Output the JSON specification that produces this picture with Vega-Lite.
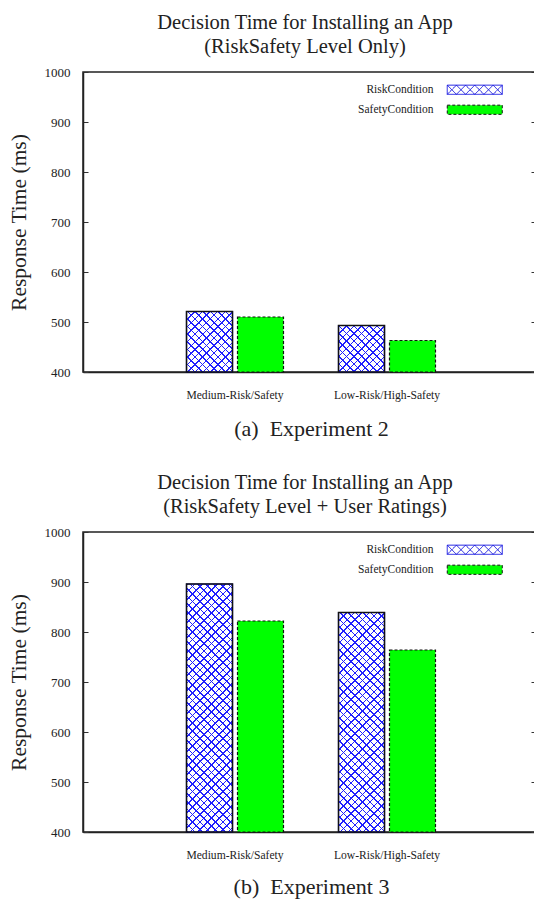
{
  "$schema": "https://vega.github.io/schema/vega-lite/v6.json",
  "padding": {"left": 7, "top": 12, "right": 0, "bottom": 0},
  "background": "white",
  "params": [
    {"name": "hatch", "value": [
      {"offset":0,"color":"#2020ff"},{"offset":0.004,"color":"#2020ff"},{"offset":0.004,"color":"#2020ff00"},{"offset":0.02,"color":"#2020ff00"},
      {"offset":0.02,"color":"#2020ff"},{"offset":0.024,"color":"#2020ff"},{"offset":0.024,"color":"#2020ff00"},{"offset":0.04,"color":"#2020ff00"},
      {"offset":0.04,"color":"#2020ff"},{"offset":0.044,"color":"#2020ff"},{"offset":0.044,"color":"#2020ff00"},{"offset":0.06,"color":"#2020ff00"},
      {"offset":0.06,"color":"#2020ff"},{"offset":0.064,"color":"#2020ff"},{"offset":0.064,"color":"#2020ff00"},{"offset":0.08,"color":"#2020ff00"},
      {"offset":0.08,"color":"#2020ff"},{"offset":0.084,"color":"#2020ff"},{"offset":0.084,"color":"#2020ff00"},{"offset":0.1,"color":"#2020ff00"},
      {"offset":0.1,"color":"#2020ff"},{"offset":0.104,"color":"#2020ff"},{"offset":0.104,"color":"#2020ff00"},{"offset":0.12,"color":"#2020ff00"},
      {"offset":0.12,"color":"#2020ff"},{"offset":0.124,"color":"#2020ff"},{"offset":0.124,"color":"#2020ff00"},{"offset":0.14,"color":"#2020ff00"},
      {"offset":0.14,"color":"#2020ff"},{"offset":0.144,"color":"#2020ff"},{"offset":0.144,"color":"#2020ff00"},{"offset":0.16,"color":"#2020ff00"},
      {"offset":0.16,"color":"#2020ff"},{"offset":0.164,"color":"#2020ff"},{"offset":0.164,"color":"#2020ff00"},{"offset":0.18,"color":"#2020ff00"},
      {"offset":0.18,"color":"#2020ff"},{"offset":0.184,"color":"#2020ff"},{"offset":0.184,"color":"#2020ff00"},{"offset":0.2,"color":"#2020ff00"},
      {"offset":0.2,"color":"#2020ff"},{"offset":0.204,"color":"#2020ff"},{"offset":0.204,"color":"#2020ff00"},{"offset":0.22,"color":"#2020ff00"},
      {"offset":0.22,"color":"#2020ff"},{"offset":0.224,"color":"#2020ff"},{"offset":0.224,"color":"#2020ff00"},{"offset":0.24,"color":"#2020ff00"},
      {"offset":0.24,"color":"#2020ff"},{"offset":0.244,"color":"#2020ff"},{"offset":0.244,"color":"#2020ff00"},{"offset":0.26,"color":"#2020ff00"},
      {"offset":0.26,"color":"#2020ff"},{"offset":0.264,"color":"#2020ff"},{"offset":0.264,"color":"#2020ff00"},{"offset":0.28,"color":"#2020ff00"},
      {"offset":0.28,"color":"#2020ff"},{"offset":0.284,"color":"#2020ff"},{"offset":0.284,"color":"#2020ff00"},{"offset":0.3,"color":"#2020ff00"},
      {"offset":0.3,"color":"#2020ff"},{"offset":0.304,"color":"#2020ff"},{"offset":0.304,"color":"#2020ff00"},{"offset":0.32,"color":"#2020ff00"},
      {"offset":0.32,"color":"#2020ff"},{"offset":0.324,"color":"#2020ff"},{"offset":0.324,"color":"#2020ff00"},{"offset":0.34,"color":"#2020ff00"},
      {"offset":0.34,"color":"#2020ff"},{"offset":0.344,"color":"#2020ff"},{"offset":0.344,"color":"#2020ff00"},{"offset":0.36,"color":"#2020ff00"},
      {"offset":0.36,"color":"#2020ff"},{"offset":0.364,"color":"#2020ff"},{"offset":0.364,"color":"#2020ff00"},{"offset":0.38,"color":"#2020ff00"},
      {"offset":0.38,"color":"#2020ff"},{"offset":0.384,"color":"#2020ff"},{"offset":0.384,"color":"#2020ff00"},{"offset":0.4,"color":"#2020ff00"},
      {"offset":0.4,"color":"#2020ff"},{"offset":0.404,"color":"#2020ff"},{"offset":0.404,"color":"#2020ff00"},{"offset":0.42,"color":"#2020ff00"},
      {"offset":0.42,"color":"#2020ff"},{"offset":0.424,"color":"#2020ff"},{"offset":0.424,"color":"#2020ff00"},{"offset":0.44,"color":"#2020ff00"},
      {"offset":0.44,"color":"#2020ff"},{"offset":0.444,"color":"#2020ff"},{"offset":0.444,"color":"#2020ff00"},{"offset":0.46,"color":"#2020ff00"},
      {"offset":0.46,"color":"#2020ff"},{"offset":0.464,"color":"#2020ff"},{"offset":0.464,"color":"#2020ff00"},{"offset":0.48,"color":"#2020ff00"},
      {"offset":0.48,"color":"#2020ff"},{"offset":0.484,"color":"#2020ff"},{"offset":0.484,"color":"#2020ff00"},{"offset":0.5,"color":"#2020ff00"},
      {"offset":0.5,"color":"#2020ff"},{"offset":0.504,"color":"#2020ff"},{"offset":0.504,"color":"#2020ff00"},{"offset":0.52,"color":"#2020ff00"},
      {"offset":0.52,"color":"#2020ff"},{"offset":0.524,"color":"#2020ff"},{"offset":0.524,"color":"#2020ff00"},{"offset":0.54,"color":"#2020ff00"},
      {"offset":0.54,"color":"#2020ff"},{"offset":0.544,"color":"#2020ff"},{"offset":0.544,"color":"#2020ff00"},{"offset":0.56,"color":"#2020ff00"},
      {"offset":0.56,"color":"#2020ff"},{"offset":0.564,"color":"#2020ff"},{"offset":0.564,"color":"#2020ff00"},{"offset":0.58,"color":"#2020ff00"},
      {"offset":0.58,"color":"#2020ff"},{"offset":0.584,"color":"#2020ff"},{"offset":0.584,"color":"#2020ff00"},{"offset":0.6,"color":"#2020ff00"},
      {"offset":0.6,"color":"#2020ff"},{"offset":0.604,"color":"#2020ff"},{"offset":0.604,"color":"#2020ff00"},{"offset":0.62,"color":"#2020ff00"},
      {"offset":0.62,"color":"#2020ff"},{"offset":0.624,"color":"#2020ff"},{"offset":0.624,"color":"#2020ff00"},{"offset":0.64,"color":"#2020ff00"},
      {"offset":0.64,"color":"#2020ff"},{"offset":0.644,"color":"#2020ff"},{"offset":0.644,"color":"#2020ff00"},{"offset":0.66,"color":"#2020ff00"},
      {"offset":0.66,"color":"#2020ff"},{"offset":0.664,"color":"#2020ff"},{"offset":0.664,"color":"#2020ff00"},{"offset":0.68,"color":"#2020ff00"},
      {"offset":0.68,"color":"#2020ff"},{"offset":0.684,"color":"#2020ff"},{"offset":0.684,"color":"#2020ff00"},{"offset":0.7,"color":"#2020ff00"},
      {"offset":0.7,"color":"#2020ff"},{"offset":0.704,"color":"#2020ff"},{"offset":0.704,"color":"#2020ff00"},{"offset":0.72,"color":"#2020ff00"},
      {"offset":0.72,"color":"#2020ff"},{"offset":0.724,"color":"#2020ff"},{"offset":0.724,"color":"#2020ff00"},{"offset":0.74,"color":"#2020ff00"},
      {"offset":0.74,"color":"#2020ff"},{"offset":0.744,"color":"#2020ff"},{"offset":0.744,"color":"#2020ff00"},{"offset":0.76,"color":"#2020ff00"},
      {"offset":0.76,"color":"#2020ff"},{"offset":0.764,"color":"#2020ff"},{"offset":0.764,"color":"#2020ff00"},{"offset":0.78,"color":"#2020ff00"},
      {"offset":0.78,"color":"#2020ff"},{"offset":0.784,"color":"#2020ff"},{"offset":0.784,"color":"#2020ff00"},{"offset":0.8,"color":"#2020ff00"},
      {"offset":0.8,"color":"#2020ff"},{"offset":0.804,"color":"#2020ff"},{"offset":0.804,"color":"#2020ff00"},{"offset":0.82,"color":"#2020ff00"},
      {"offset":0.82,"color":"#2020ff"},{"offset":0.824,"color":"#2020ff"},{"offset":0.824,"color":"#2020ff00"},{"offset":0.84,"color":"#2020ff00"},
      {"offset":0.84,"color":"#2020ff"},{"offset":0.844,"color":"#2020ff"},{"offset":0.844,"color":"#2020ff00"},{"offset":0.86,"color":"#2020ff00"},
      {"offset":0.86,"color":"#2020ff"},{"offset":0.864,"color":"#2020ff"},{"offset":0.864,"color":"#2020ff00"},{"offset":0.88,"color":"#2020ff00"},
      {"offset":0.88,"color":"#2020ff"},{"offset":0.884,"color":"#2020ff"},{"offset":0.884,"color":"#2020ff00"},{"offset":0.9,"color":"#2020ff00"},
      {"offset":0.9,"color":"#2020ff"},{"offset":0.904,"color":"#2020ff"},{"offset":0.904,"color":"#2020ff00"},{"offset":0.92,"color":"#2020ff00"},
      {"offset":0.92,"color":"#2020ff"},{"offset":0.924,"color":"#2020ff"},{"offset":0.924,"color":"#2020ff00"},{"offset":0.94,"color":"#2020ff00"},
      {"offset":0.94,"color":"#2020ff"},{"offset":0.944,"color":"#2020ff"},{"offset":0.944,"color":"#2020ff00"},{"offset":0.96,"color":"#2020ff00"},
      {"offset":0.96,"color":"#2020ff"},{"offset":0.964,"color":"#2020ff"},{"offset":0.964,"color":"#2020ff00"},{"offset":1,"color":"#2020ff00"}
    ]}
  ],
  "config": {
    "font": "Liberation Serif",
    "view": {"stroke": "#222", "strokeWidth": 1.5},
    "axis": {"grid": false, "labelFont": "Liberation Serif", "titleFont": "Liberation Serif", "labelColor": "#222", "titleColor": "#222", "titleFontWeight": "normal"},
    "title": {"font": "Liberation Serif", "fontSize": 20.5, "fontWeight": "normal", "color": "#222", "lineHeight": 23.5, "offset": 9, "dx": -6},
    "concat": {"spacing": 31}
  },
  "vconcat": [
    {
      "width": 456,
      "height": 300,
      "title": {"text": ["Decision Time for Installing an App", "(RiskSafety Level Only)"]},
      "data": {"values": [
        {"level": "Medium-Risk/Safety", "cond": "RiskCondition", "rt": 521},
        {"level": "Medium-Risk/Safety", "cond": "SafetyCondition", "rt": 510},
        {"level": "Low-Risk/High-Safety", "cond": "RiskCondition", "rt": 493},
        {"level": "Low-Risk/High-Safety", "cond": "SafetyCondition", "rt": 463}
      ]},
      "encoding": {
        "x": {"field": "level", "type": "nominal", "sort": null,
          "scale": {"domain": ["Medium-Risk/Safety", "Low-Risk/High-Safety"], "paddingInner": 0.362, "paddingOuter": 0.681},
          "axis": {"title": "(a)\u00a0 Experiment 2", "titleFontSize": 22, "titlePadding": 18, "labelAngle": 0, "labelFontSize": 11.6, "labelPadding": 17, "ticks": false, "domainColor": "#222", "domainWidth": 1.5}},
        "xOffset": {"field": "cond", "type": "nominal", "scale": {"domain": ["RiskCondition", "SafetyCondition"], "paddingInner": 0.098, "paddingOuter": 0}},
        "y": {"field": "rt", "type": "quantitative", "scale": {"domain": [400, 1000], "zero": false, "nice": false},
          "axis": {"title": "Response Time (ms)", "titleFontSize": 21.5, "titlePadding": 14, "values": [400, 500, 600, 700, 800, 900, 1000], "format": "d", "labelFontSize": 13, "labelPadding": 18, "tickSize": -5, "tickColor": "#333", "domainColor": "#222", "domainWidth": 1.5}},
        "y2": {"datum": 400}
      },
      "layer": [
        {
          "mark": {"type": "bar", "strokeWidth": 1.2},
          "encoding": {
            "fill": {"field": "cond", "type": "nominal",
              "scale": {"domain": ["RiskCondition", "SafetyCondition"], "range": ["#ffffff", "#00ff00"]},
              "legend": {"title": null, "orient": "none", "legendX": 386, "legendY": 12, "symbolSize": 100, "labelOffset": -47, "labelAlign": "right", "labelFont": "Liberation Serif", "labelFontSize": 11.5, "labelColor": "#222", "rowPadding": 6, "symbolStrokeWidth": 1,
                "symbolType": {"expr": "datum.value === 'RiskCondition' ? 'M-5.5,-0.917H5.5V0.917H-5.5ZM-5.5,-0.917L-3.667,0.917L-1.833,-0.917L0,0.917L1.833,-0.917L3.667,0.917L5.5,-0.917M-5.5,0.917L-3.667,-0.917L-1.833,0.917L0,-0.917L1.833,0.917L3.667,-0.917L5.5,0.917' : 'M-5.5,-0.917H5.5V0.917H-5.5Z'"}}},
            "stroke": {"field": "cond", "type": "nominal", "scale": {"domain": ["RiskCondition", "SafetyCondition"], "range": ["#1515e0", "#111111"]}, "legend": null},
            "strokeDash": {"field": "cond", "type": "nominal", "scale": {"domain": ["RiskCondition", "SafetyCondition"], "range": [[1, 0], [3, 2]]}, "legend": null}
          }
        },
        {
          "transform": [{"filter": "datum.cond === 'RiskCondition'"}],
          "mark": {"type": "bar", "fill": {"expr": "{gradient:'linear',x1:0,y1:0,x2:17480/(2116+pow((datum.rt-400)*0.5,2)),y2:190*(datum.rt-400)/(2116+pow((datum.rt-400)*0.5,2)),stops:hatch}"}},
          "encoding": {"y": {"field": "rt", "type": "quantitative", "scale": {"domain": [400, 1000], "zero": false, "nice": false}, "axis": null}}
        },
        {
          "transform": [{"filter": "datum.cond === 'RiskCondition'"}],
          "mark": {"type": "bar", "fill": {"expr": "{gradient:'linear',x1:0,y1:1,x2:17480/(2116+pow((datum.rt-400)*0.5,2)),y2:1-190*(datum.rt-400)/(2116+pow((datum.rt-400)*0.5,2)),stops:hatch}"}, "stroke": "#111", "strokeWidth": 1.5},
          "encoding": {"y": {"field": "rt", "type": "quantitative", "scale": {"domain": [400, 1000], "zero": false, "nice": false},
            "axis": {"orient": "right", "labels": false, "domain": false, "title": null, "values": [400, 500, 600, 700, 800, 900, 1000], "tickSize": -8, "tickColor": "#333"}}}
        }
      ],
      "resolve": {"axis": {"y": "independent"}}
    },
    {
      "width": 456,
      "height": 300,
      "title": {"text": ["Decision Time for Installing an App", "(RiskSafety Level + User Ratings)"]},
      "data": {"values": [
        {"level": "Medium-Risk/Safety", "cond": "RiskCondition", "rt": 896},
        {"level": "Medium-Risk/Safety", "cond": "SafetyCondition", "rt": 822},
        {"level": "Low-Risk/High-Safety", "cond": "RiskCondition", "rt": 839},
        {"level": "Low-Risk/High-Safety", "cond": "SafetyCondition", "rt": 764}
      ]},
      "encoding": {
        "x": {"field": "level", "type": "nominal", "sort": null,
          "scale": {"domain": ["Medium-Risk/Safety", "Low-Risk/High-Safety"], "paddingInner": 0.362, "paddingOuter": 0.681},
          "axis": {"title": "(b)\u00a0 Experiment 3", "titleFontSize": 22, "titlePadding": 16, "labelAngle": 0, "labelFontSize": 11.6, "labelPadding": 17, "ticks": false, "domainColor": "#222", "domainWidth": 1.5}},
        "xOffset": {"field": "cond", "type": "nominal", "scale": {"domain": ["RiskCondition", "SafetyCondition"], "paddingInner": 0.098, "paddingOuter": 0}},
        "y": {"field": "rt", "type": "quantitative", "scale": {"domain": [400, 1000], "zero": false, "nice": false},
          "axis": {"title": "Response Time (ms)", "titleFontSize": 21.5, "titlePadding": 14, "values": [400, 500, 600, 700, 800, 900, 1000], "format": "d", "labelFontSize": 13, "labelPadding": 18, "tickSize": -5, "tickColor": "#333", "domainColor": "#222", "domainWidth": 1.5}},
        "y2": {"datum": 400}
      },
      "layer": [
        {
          "mark": {"type": "bar", "strokeWidth": 1.2},
          "encoding": {
            "fill": {"field": "cond", "type": "nominal",
              "scale": {"domain": ["RiskCondition", "SafetyCondition"], "range": ["#ffffff", "#00ff00"]},
              "legend": {"title": null, "orient": "none", "legendX": 386, "legendY": 12, "symbolSize": 100, "labelOffset": -47, "labelAlign": "right", "labelFont": "Liberation Serif", "labelFontSize": 11.5, "labelColor": "#222", "rowPadding": 6, "symbolStrokeWidth": 1,
                "symbolType": {"expr": "datum.value === 'RiskCondition' ? 'M-5.5,-0.917H5.5V0.917H-5.5ZM-5.5,-0.917L-3.667,0.917L-1.833,-0.917L0,0.917L1.833,-0.917L3.667,0.917L5.5,-0.917M-5.5,0.917L-3.667,-0.917L-1.833,0.917L0,-0.917L1.833,0.917L3.667,-0.917L5.5,0.917' : 'M-5.5,-0.917H5.5V0.917H-5.5Z'"}}},
            "stroke": {"field": "cond", "type": "nominal", "scale": {"domain": ["RiskCondition", "SafetyCondition"], "range": ["#1515e0", "#111111"]}, "legend": null},
            "strokeDash": {"field": "cond", "type": "nominal", "scale": {"domain": ["RiskCondition", "SafetyCondition"], "range": [[1, 0], [3, 2]]}, "legend": null}
          }
        },
        {
          "transform": [{"filter": "datum.cond === 'RiskCondition'"}],
          "mark": {"type": "bar", "fill": {"expr": "{gradient:'linear',x1:0,y1:0,x2:17480/(2116+pow((datum.rt-400)*0.5,2)),y2:190*(datum.rt-400)/(2116+pow((datum.rt-400)*0.5,2)),stops:hatch}"}},
          "encoding": {"y": {"field": "rt", "type": "quantitative", "scale": {"domain": [400, 1000], "zero": false, "nice": false}, "axis": null}}
        },
        {
          "transform": [{"filter": "datum.cond === 'RiskCondition'"}],
          "mark": {"type": "bar", "fill": {"expr": "{gradient:'linear',x1:0,y1:1,x2:17480/(2116+pow((datum.rt-400)*0.5,2)),y2:1-190*(datum.rt-400)/(2116+pow((datum.rt-400)*0.5,2)),stops:hatch}"}, "stroke": "#111", "strokeWidth": 1.5},
          "encoding": {"y": {"field": "rt", "type": "quantitative", "scale": {"domain": [400, 1000], "zero": false, "nice": false},
            "axis": {"orient": "right", "labels": false, "domain": false, "title": null, "values": [400, 500, 600, 700, 800, 900, 1000], "tickSize": -8, "tickColor": "#333"}}}
        }
      ],
      "resolve": {"axis": {"y": "independent"}}
    }
  ],
  "resolve": {"scale": {"fill": "independent", "stroke": "independent", "strokeDash": "independent"}, "legend": {"fill": "independent"}}
}
